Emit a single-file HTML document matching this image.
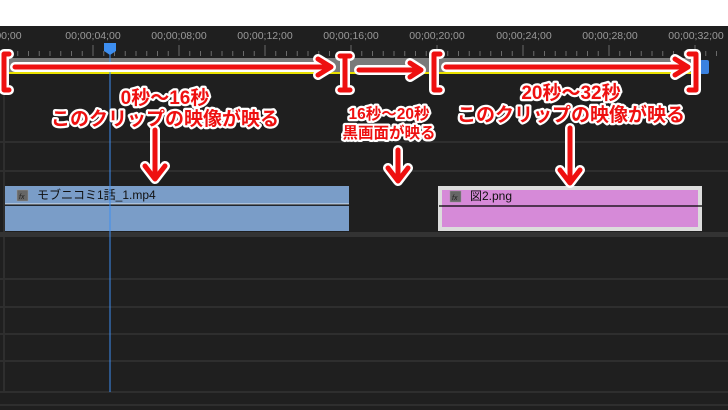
<!DOCTYPE html>
<html><head><meta charset="utf-8"><style>
body{margin:0;width:728px;height:410px;overflow:hidden;background:#1f1f1f;font-family:"Liberation Sans","Noto Sans CJK JP",sans-serif}
svg{position:absolute;left:0;top:0}
</style></head><body>
<svg width="728" height="410" xmlns="http://www.w3.org/2000/svg">
<rect x="0" y="0" width="728" height="26" fill="#fff"/>
<rect x="0" y="26" width="728" height="384" fill="#1f1f1f"/>
<g font-size="10.5" fill="#9a9a9a" text-anchor="middle">
<text x="93" y="39">00;00;04;00</text><text x="179" y="39">00;00;08;00</text><text x="265" y="39">00;00;12;00</text><text x="351" y="39">00;00;16;00</text><text x="437" y="39">00;00;20;00</text><text x="524" y="39">00;00;24;00</text><text x="610" y="39">00;00;28;00</text><text x="696" y="39">00;00;32;00</text><text x="7" y="39">;00;00</text>
</g>
<g stroke="#6a6a6a" stroke-width="1">
<path d="M7 51V56M17.75 51V56M28.5 51V56M39.25 51V56M50 51V56M60.75 51V56M71.5 51V56M82.25 51V56M93 45V56M103.75 51V56M114.5 51V56M125.25 51V56M136 51V56M146.75 51V56M157.5 51V56M168.25 51V56M179 45V56M189.75 51V56M200.5 51V56M211.25 51V56M222 51V56M232.75 51V56M243.5 51V56M254.25 51V56M265 45V56M275.75 51V56M286.5 51V56M297.25 51V56M308 51V56M318.75 51V56M329.5 51V56M340.25 51V56M351 45V56M361.75 51V56M372.5 51V56M383.25 51V56M394 51V56M404.75 51V56M415.5 51V56M426.25 51V56M437 45V56M447.75 51V56M458.5 51V56M469.25 51V56M480 51V56M490.75 51V56M501.5 51V56M512.25 51V56M523 45V56M533.75 51V56M544.5 51V56M555.25 51V56M566 51V56M576.75 51V56M587.5 51V56M598.25 51V56M609 45V56M619.75 51V56M630.5 51V56M641.25 51V56M652 51V56M662.75 51V56M673.5 51V56M684.25 51V56M695 45V56M705.75 51V56M716.5 51V56"/>
</g>
<rect x="8" y="58" width="692" height="14" fill="#7a7a7a"/>
<rect x="8" y="72" width="692" height="2" fill="#e8e000"/>
<rect x="700" y="60" width="9" height="14" rx="2" fill="#3b82e0"/>
<g stroke="#2e2e2e" stroke-width="2">
<line x1="0" y1="142" x2="728" y2="142"/><line x1="0" y1="171" x2="728" y2="171"/>
<line x1="0" y1="279" x2="728" y2="279"/><line x1="0" y1="307" x2="728" y2="307"/>
<line x1="0" y1="334" x2="728" y2="334"/><line x1="0" y1="361" x2="728" y2="361"/>
<line x1="0" y1="392" x2="728" y2="392"/><line x1="0" y1="405" x2="728" y2="405"/>
<line x1="4" y1="74" x2="4" y2="392"/>
</g>
<rect x="0" y="232" width="728" height="5" fill="#333"/>
<rect x="5" y="186" width="344" height="45" fill="#7a9dc8"/>
<line x1="5" y1="205" x2="349" y2="205" stroke="#000" stroke-width="1.5"/>
<line x1="5" y1="204" x2="349" y2="204" stroke="#fff" stroke-width="0.8"/>
<rect x="17" y="190" width="11" height="11" fill="#666" stroke="#999" stroke-width="0.5"/>
<text x="19" y="199" font-size="7" font-style="italic" fill="#222">fx</text>
<text x="37" y="199" font-size="12" fill="#111">モブニコミ1話_1.mp4</text>
<rect x="438" y="186" width="264" height="45" fill="#dcdcdc"/>
<rect x="442" y="190" width="256" height="37" fill="#d68ad8"/>
<line x1="439" y1="206" x2="702" y2="206" stroke="#000" stroke-width="1.2"/>
<rect x="450" y="191" width="11" height="11" fill="#666" stroke="#999" stroke-width="0.5"/>
<text x="452" y="200" font-size="7" font-style="italic" fill="#222">fx</text>
<text x="470" y="200" font-size="12" fill="#111">図2.png</text>
<line x1="110" y1="52" x2="110" y2="392" stroke="#3d8ef0" stroke-width="1"/>
<path d="M104 43H116V51L110 55L104 51Z" fill="#3d8ef0"/>
<g fill="none" stroke-linecap="round" stroke-linejoin="round">
<g stroke="#fff" stroke-width="10">
<path d="M9 54H4V90H9"/><path d="M15 67H330M318 59L331 67L318 75"/>
<path d="M340 56H350M345 56V90M340 90H350"/><path d="M359 70H420M410 63L421 70L410 77"/>
<path d="M440 54H434V90H440"/><path d="M446 67H687M675 59L688 67L675 75"/>
<path d="M689 54H696V90H689"/>
<path d="M155 130V178M145 166L155 179L165 166"/>
<path d="M398 150V180M388 168L398 181L408 168"/>
<path d="M570 128V182M560 170L570 183L580 170"/>
</g>
<g stroke="#ee1010" stroke-width="5">
<path d="M9 54H4V90H9"/><path d="M15 67H330M318 59L331 67L318 75"/>
<path d="M340 56H350M345 56V90M340 90H350"/><path d="M359 70H420M410 63L421 70L410 77"/>
<path d="M440 54H434V90H440"/><path d="M446 67H687M675 59L688 67L675 75"/>
<path d="M689 54H696V90H689"/>
<path d="M155 130V178M145 166L155 179L165 166"/>
<path d="M398 150V180M388 168L398 181L408 168"/>
<path d="M570 128V182M560 170L570 183L580 170"/>
</g>
</g>
<g font-weight="bold" fill="#ee1010" stroke="#fff" stroke-width="4.5" paint-order="stroke" stroke-linejoin="round" text-anchor="middle">
<text x="165" y="104" font-size="19">0秒〜16秒</text>
<text x="165" y="125" font-size="19">このクリップの映像が映る</text>
<text x="389" y="119" font-size="15.5">16秒〜20秒</text>
<text x="389" y="138" font-size="15.5">黒画面が映る</text>
<text x="571" y="99" font-size="19">20秒〜32秒</text>
<text x="571" y="121" font-size="19">このクリップの映像が映る</text>
</g>
</svg>
</body></html>
